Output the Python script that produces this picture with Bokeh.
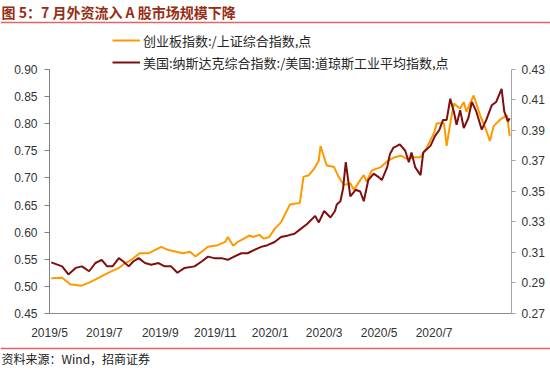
import pandas as pd
from bokeh.plotting import figure
from bokeh.layouts import column
from bokeh.models import (Range1d, LinearAxis, FixedTicker, NumeralTickFormatter,
                          Legend, LegendItem)
from bokeh.core.properties import value
from bokeh.embed import file_html
from bokeh.resources import INLINE

# ---------------- data ----------------
chinext_dates = [
    "2019-05-03", "2019-05-15", "2019-05-24", "2019-06-05", "2019-06-14", "2019-06-25",
    "2019-07-05", "2019-07-17", "2019-07-24", "2019-07-31", "2019-08-09", "2019-08-19",
    "2019-08-26", "2019-09-02", "2019-09-10", "2019-09-19", "2019-09-26", "2019-10-04",
    "2019-10-10", "2019-10-17", "2019-10-24", "2019-11-04", "2019-11-12", "2019-11-15",
    "2019-11-21", "2019-11-26", "2019-12-03", "2019-12-09", "2019-12-13", "2019-12-20",
    "2019-12-25", "2019-12-31", "2020-01-06", "2020-01-13", "2020-01-23", "2020-02-03",
    "2020-02-07", "2020-02-13", "2020-02-19", "2020-02-24", "2020-02-26", "2020-03-02",
    "2020-03-04", "2020-03-12", "2020-03-17", "2020-03-23", "2020-03-30", "2020-04-03",
    "2020-04-10", "2020-04-14", "2020-04-17", "2020-04-23", "2020-05-03", "2020-05-11",
    "2020-05-18", "2020-05-25", "2020-06-01", "2020-06-09", "2020-06-16", "2020-06-23",
    "2020-07-01", "2020-07-04", "2020-07-12", "2020-07-15", "2020-07-19", "2020-07-23",
    "2020-07-30", "2020-08-03", "2020-08-06", "2020-08-14", "2020-08-21", "2020-08-27",
    "2020-09-01", "2020-09-05", "2020-09-12", "2020-09-20", "2020-09-23",
]
chinext_ratio = [
    0.515, 0.516, 0.504, 0.501, 0.507, 0.516,
    0.525, 0.534, 0.543, 0.549, 0.561, 0.561,
    0.567, 0.573, 0.567, 0.564, 0.561, 0.564,
    0.555, 0.564, 0.573, 0.576, 0.582, 0.591,
    0.575, 0.582, 0.588, 0.594, 0.591, 0.595,
    0.588, 0.591, 0.606, 0.618, 0.651, 0.654,
    0.702, 0.705, 0.717, 0.732, 0.759, 0.732,
    0.723, 0.720, 0.702, 0.687, 0.690, 0.678,
    0.696, 0.705, 0.693, 0.714, 0.720, 0.732,
    0.738, 0.741, 0.735, 0.738, 0.738, 0.756,
    0.783, 0.801, 0.801, 0.759, 0.801, 0.837,
    0.828, 0.840, 0.822, 0.852, 0.816, 0.792,
    0.768, 0.795, 0.807, 0.816, 0.777,
]

nasdaq_dates = [
    "2019-05-03", "2019-05-15", "2019-05-22", "2019-05-30", "2019-06-06", "2019-06-14",
    "2019-06-21", "2019-06-28", "2019-07-04", "2019-07-10", "2019-07-17", "2019-07-22",
    "2019-07-28", "2019-08-02", "2019-08-08", "2019-08-15", "2019-08-22", "2019-08-30",
    "2019-09-06", "2019-09-13", "2019-09-20", "2019-09-28", "2019-10-09", "2019-10-17",
    "2019-10-24", "2019-10-31", "2019-11-08", "2019-11-15", "2019-11-22", "2019-11-30",
    "2019-12-07", "2019-12-14", "2019-12-22", "2019-12-29", "2020-01-06", "2020-01-13",
    "2020-01-21", "2020-01-28", "2020-02-04", "2020-02-11", "2020-02-20", "2020-02-24",
    "2020-03-01", "2020-03-08", "2020-03-13", "2020-03-15", "2020-03-19", "2020-03-22",
    "2020-03-25", "2020-03-30", "2020-04-05", "2020-04-10", "2020-04-14", "2020-04-19",
    "2020-04-25", "2020-04-30", "2020-05-04", "2020-05-10", "2020-05-13", "2020-05-17",
    "2020-05-21", "2020-05-24", "2020-05-30", "2020-06-03", "2020-06-06", "2020-06-10",
    "2020-06-16", "2020-06-19", "2020-06-27", "2020-07-02", "2020-07-07", "2020-07-11",
    "2020-07-15", "2020-07-19", "2020-07-23", "2020-07-26", "2020-07-30", "2020-08-03",
    "2020-08-08", "2020-08-12", "2020-08-17", "2020-08-23", "2020-08-28", "2020-09-03",
    "2020-09-08", "2020-09-14", "2020-09-17", "2020-09-21", "2020-09-23",
]
nasdaq_ratio = [
    0.3035, 0.3009, 0.2956, 0.2999, 0.3009, 0.2977,
    0.3031, 0.3052, 0.3009, 0.3009, 0.3063, 0.3041,
    0.3009, 0.3041, 0.3063, 0.3031, 0.3020, 0.3031,
    0.3009, 0.3009, 0.2967, 0.2999, 0.3009, 0.3041,
    0.3073, 0.3063, 0.3063, 0.3052, 0.3073, 0.3095,
    0.3095, 0.3116, 0.3137, 0.3148, 0.3169, 0.3201,
    0.3212, 0.3223, 0.3255, 0.3287, 0.3340, 0.3297,
    0.3372, 0.3329, 0.3372, 0.3415, 0.3436, 0.3520,
    0.3692, 0.3468, 0.3511, 0.3500, 0.3436, 0.3575,
    0.3617, 0.3596, 0.3575, 0.3660, 0.3745, 0.3788,
    0.3799, 0.3809, 0.3767, 0.3692, 0.3756, 0.3660,
    0.3607, 0.3756, 0.3799, 0.3863, 0.3905, 0.3969,
    0.3969, 0.4108, 0.4023, 0.3937, 0.4033, 0.3916,
    0.3980, 0.4087, 0.4023, 0.3905, 0.3969, 0.4065,
    0.4087, 0.4172, 0.4023, 0.3959, 0.3980,
]

x_tick_dates = ["2019-05-01", "2019-07-01", "2019-09-01", "2019-11-01",
                "2020-01-01", "2020-03-01", "2020-05-01", "2020-07-01"]
x_tick_labels = ["2019/5", "2019/7", "2019/9", "2019/11",
                 "2020/1", "2020/3", "2020/5", "2020/7"]
left_ticks = [0.45, 0.50, 0.55, 0.60, 0.65, 0.70, 0.75, 0.80, 0.85, 0.90]
right_ticks = [0.27, 0.29, 0.31, 0.33, 0.35, 0.37, 0.39, 0.41, 0.43]

series_names = ["创业板指数:/上证综合指数,点",
                "美国:纳斯达克综合指数:/美国:道琼斯工业平均指数,点"]
title_text = "图 5：7 月外资流入 A 股市场规模下降"
source_text = "资料来源：Wind，招商证券"

# ---------------- layout constants (pixels) ----------------
W = 550
HEAD_H, MAIN_H, FOOT_H = 26, 316, 26
FL, FR, FT, FB = 49, 39, 0, 22      # main figure borders around its frame
AXIS_GAP = 44                        # px between frame top and the 0.90 / 0.43 tick
CJK = "Noto Sans CJK SC"
TICK_FONT = "Liberation Sans"
RED = "#E06666"


def bare(fig):
    fig.outline_line_color = None
    fig.xgrid.visible = False
    fig.ygrid.visible = False
    fig.background_fill_color = "white"
    fig.border_fill_color = "white"
    return fig


def strip(height):
    return bare(figure(width=W, height=height, output_backend="svg", toolbar_location=None,
                       x_range=Range1d(0, W), y_range=Range1d(height, 0),
                       x_axis_location=None, y_axis_location=None, frame_align=False,
                       min_border=0, min_border_left=0, min_border_right=0,
                       min_border_top=0, min_border_bottom=0))


# ---------------- header: title + red rule ----------------
head = strip(HEAD_H)
head.text(x=[1], y=[11], text=[title_text], text_font=value(CJK),
          text_font_size="14px", text_font_style="bold", text_color="#962D14",
          text_baseline="middle", text_align="left")
head.segment(x0=[0], x1=[W], y0=[22], y1=[22], line_color=RED, line_width=1.6)

# ---------------- main chart ----------------
frame_h = MAIN_H - FT - FB
left_span = left_ticks[-1] - left_ticks[0]
right_span = right_ticks[-1] - right_ticks[0]
axis_h = frame_h - AXIS_GAP
left_top = left_ticks[-1] + AXIS_GAP * left_span / axis_h
right_top = right_ticks[-1] + AXIS_GAP * right_span / axis_h

tick_ms = [float(v) for v in (pd.to_datetime(pd.Series(x_tick_dates)).astype("int64") // 10**6)]

p = bare(figure(width=W, height=MAIN_H, output_backend="svg", toolbar_location=None,
                x_axis_type="datetime", frame_align=False,
                x_range=Range1d(pd.Timestamp("2019-05-01"), pd.Timestamp("2020-09-25")),
                y_range=Range1d(left_ticks[0], left_top),
                min_border_left=FL, min_border_right=FR,
                min_border_top=FT, min_border_bottom=FB))

# x axis
p.xaxis.ticker = FixedTicker(ticks=tick_ms)
p.xaxis.major_label_overrides = dict(zip(tick_ms, x_tick_labels))
p.xaxis.axis_line_color = "#8C8C8C"
p.xaxis.major_tick_line_color = None
p.xaxis.minor_tick_line_color = None
p.xaxis.major_label_standoff = 6
p.xaxis.major_label_text_font = TICK_FONT
p.xaxis.major_label_text_font_size = "12px"
p.xaxis.major_label_text_color = "#333333"

# left axis
p.yaxis.ticker = FixedTicker(ticks=left_ticks)
p.yaxis.bounds = (left_ticks[0], left_ticks[-1])
p.yaxis.formatter = NumeralTickFormatter(format="0.00")
p.yaxis.axis_line_color = "#808080"
p.yaxis.major_tick_line_color = "#808080"
p.yaxis.major_tick_out = 5
p.yaxis.major_tick_in = 0
p.yaxis.minor_tick_line_color = None
p.yaxis.major_label_standoff = 7
p.yaxis.major_label_text_font = TICK_FONT
p.yaxis.major_label_text_font_size = "12px"
p.yaxis.major_label_text_color = "#333333"

# right axis
p.extra_y_ranges = {"right": Range1d(right_ticks[0], right_top)}
ax_r = LinearAxis(y_range_name="right", ticker=FixedTicker(ticks=right_ticks),
                  formatter=NumeralTickFormatter(format="0.00"),
                  bounds=(right_ticks[0], right_ticks[-1]))
ax_r.axis_line_color = "#A6A6A6"
ax_r.major_tick_line_color = "#A6A6A6"
ax_r.major_tick_out = 4
ax_r.major_tick_in = 0
ax_r.minor_tick_line_color = None
ax_r.major_label_standoff = 6
ax_r.major_label_text_font = TICK_FONT
ax_r.major_label_text_font_size = "12px"
ax_r.major_label_text_color = "#333333"
p.add_layout(ax_r, "right")

# lines
r1 = p.line(x=pd.to_datetime(chinext_dates), y=chinext_ratio,
            line_color="#FF9900", line_width=2)
r2 = p.line(x=pd.to_datetime(nasdaq_dates), y=nasdaq_ratio,
            line_color="#7F0F0F", line_width=2, y_range_name="right")

# legend (inside the frame, above the axis tops)
legend = Legend(items=[LegendItem(label=series_names[0], renderers=[r1]),
                       LegendItem(label=series_names[1], renderers=[r2])],
                location=(63, 241), orientation="vertical",
                background_fill_alpha=0, border_line_color=None,
                padding=0, margin=0, spacing=2,
                glyph_width=28, glyph_height=20, label_height=20, label_standoff=3,
                label_text_font=CJK, label_text_font_size="13px",
                label_text_color="#262626")
p.add_layout(legend)

# ---------------- footer: red rule + source ----------------
foot = strip(FOOT_H)
foot.segment(x0=[0], x1=[W], y0=[6], y1=[6], line_color=RED, line_width=1.6)
foot.text(x=[1], y=[16], text=[source_text], text_font=value(CJK),
          text_font_size="12px", text_color="#222222",
          text_baseline="middle", text_align="left")

layout = column(head, p, foot, spacing=0)
open("out.html", "w").write(file_html(layout, INLINE))
